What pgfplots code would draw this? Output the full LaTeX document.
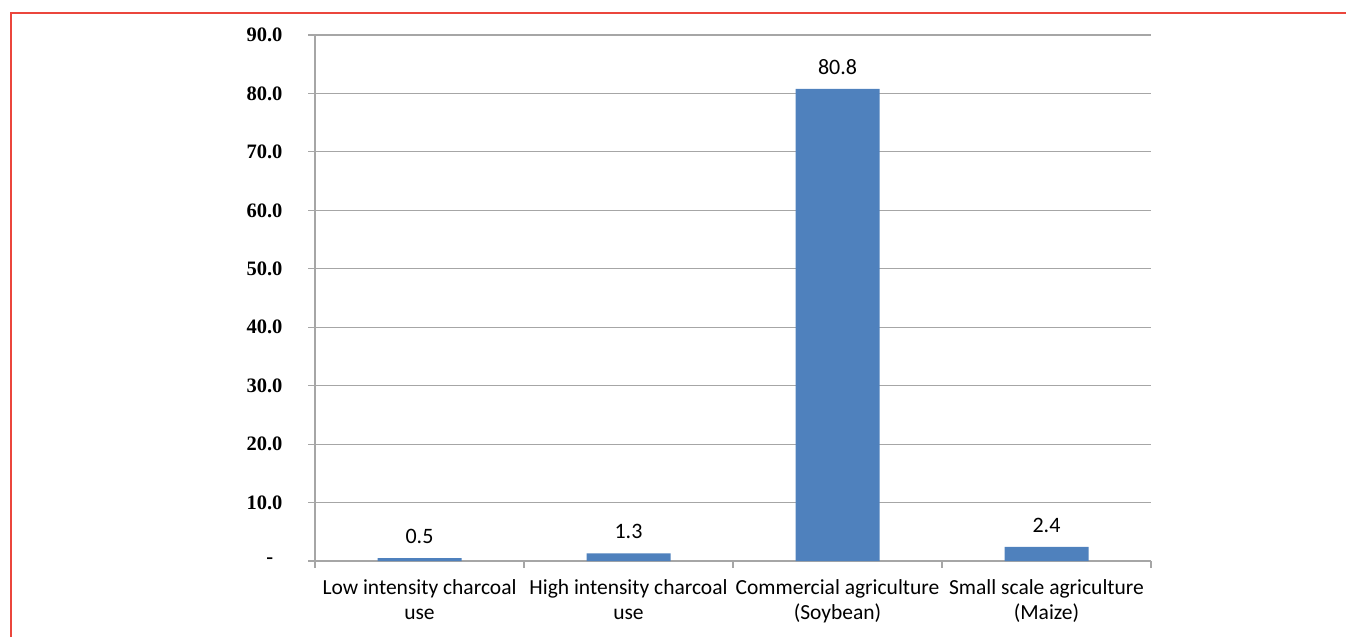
\documentclass[border=0pt]{standalone}
\usepackage{pgfplots}
\pgfplotsset{compat=1.18}
\usepackage{fontspec}
\setmainfont{Carlito}
\newfontfamily\yfont{Liberation Serif}
\definecolor{barblue}{HTML}{4F81BD}
\definecolor{gridgray}{HTML}{A6A6A6}
\begin{document}
\begin{tikzpicture}
\path[use as bounding box] (0,0) rectangle (1346pt,637pt);
\draw[color={rgb,255:red,235;green,70;blue,60}, line width=2.5pt] (11pt,0) -- (11pt,624pt) -- (1346pt,624pt);
\begin{axis}[
  at={(315pt,76pt)}, anchor=south west,
  scale only axis, width=836pt, height=526pt,
  xmin=-0.5, xmax=3.5, ymin=0, ymax=90,
  axis x line*=bottom, axis y line*=left,
  axis line style={gridgray, line width=1.2pt},
  ytick={0,10,...,90},
  yticklabels={{\makebox[16pt][l]{-}},10.0,20.0,30.0,40.0,50.0,60.0,70.0,80.0,90.0},
  yticklabel style={font=\yfont\bfseries\fontsize{20.5}{20.5}\selectfont, xshift=-22pt},
  ymajorgrids, grid style={gridgray, line width=1.2pt},
  ytick style={gridgray, line width=1.2pt},
  major tick length=7pt,
  xtick={0,1,2,3},
  xticklabels={{Low intensity charcoal\\use},{High intensity charcoal\\use},{Commercial agriculture\\(Soybean)},{Small scale agriculture\\(Maize)}},
  xticklabel style={font=\fontsize{21.5}{25}\selectfont, align=center, yshift=-8pt},
  major x tick style={draw=none},
  minor xtick={-0.5,0.5,1.5,2.5,3.5},
  minor x tick style={gridgray, line width=1.2pt},
  minor tick length=7pt,
  tick align=outside,
  ybar, bar width=84pt,
  nodes near coords,
  nodes near coords style={font=\fontsize{22}{22}\selectfont, /pgf/number format/fixed, /pgf/number format/fixed zerofill, /pgf/number format/precision=1, /pgf/number format/assume math mode=true, yshift=11pt},
  clip=false,
]
\addplot[fill=barblue, draw=none] coordinates {(0,0.5) (1,1.3) (2,80.8) (3,2.4)};
\end{axis}
\end{tikzpicture}
\end{document}
